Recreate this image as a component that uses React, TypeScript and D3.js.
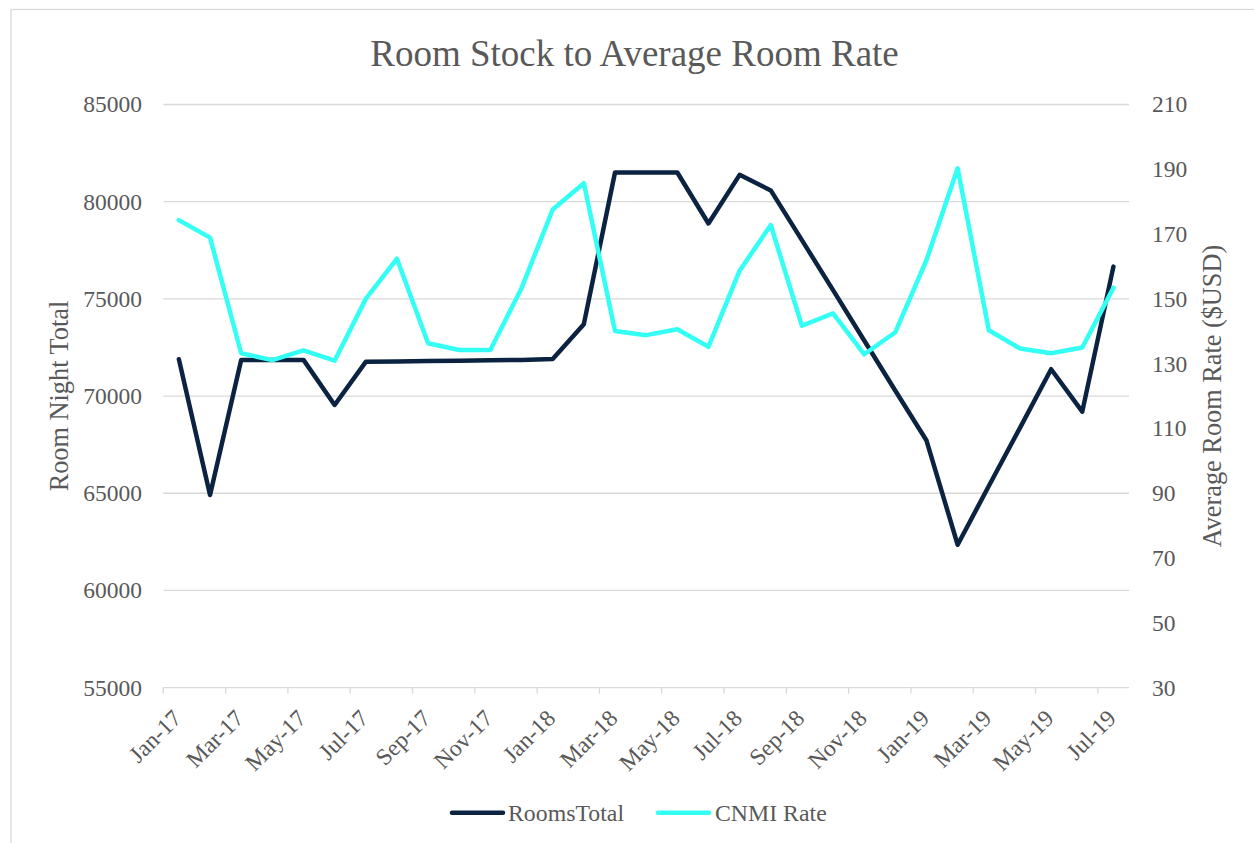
import * as d3 from 'd3';
import React from 'react';

// data (Jan-17 .. Jul-19)
const MONTHS = d3.timeMonth.range(new Date(2017, 0, 1), new Date(2019, 7, 1));
const ROOMS_TOTAL = [
  71890, 64910, 71860, 71860, 71860, 69540, 71760, 71780, 71800, 71820, 71840,
  71860, 71900, 73700, 81500, 81500, 81500, 78880, 81380, 80580, 78020, 75450,
  72860, 70270, 67710, 62350, 65370, 68360, 71380, 69200, 76660,
];
const CNMI_RATE = [
  174.3, 168.9, 133.2, 131.1, 134.1, 130.9, 150.0, 162.4, 136.3, 134.2, 134.2,
  153.3, 177.6, 185.7, 140.1, 138.8, 140.6, 135.2, 158.7, 172.8, 141.7, 145.5,
  132.9, 139.7, 162.0, 190.3, 140.3, 134.7, 133.2, 135.0, 153.4,
];
const LEFT_TICKS = [55000, 60000, 65000, 70000, 75000, 80000, 85000];
const RIGHT_TICKS = [30, 50, 70, 90, 110, 130, 150, 170, 190, 210];

// RENDERING SETUP
const W = 1254;
const H = 843;
const PLOT = { LEFT: 163.3, RIGHT: 1129, TOP: 104.5, BOTTOM: 687.6 };
const COLOR = {
  ROOMS: '#0b2341',
  RATE: '#33fff5',
  TEXT: '#595959',
  GRID: '#d9d9d9',
};
const FONT = '"Liberation Serif", "Times New Roman", serif';

const fmtMonth = d3.timeFormat('%b-%y');

const App = () => {
  const x = d3
    .scaleBand<Date>()
    .domain(MONTHS)
    .range([PLOT.LEFT, PLOT.RIGHT])
    .padding(0);
  const half = x.bandwidth() / 2;
  const yL = d3.scaleLinear().domain([55000, 85000]).range([PLOT.BOTTOM, PLOT.TOP]);
  const yR = d3.scaleLinear().domain([30, 210]).range([PLOT.BOTTOM, PLOT.TOP]);

  const roomsLine = d3
    .line<number>()
    .x((d, i) => (x(MONTHS[i]) as number) + half)
    .y((d) => yL(d));
  const rateLine = d3
    .line<number>()
    .x((d, i) => (x(MONTHS[i]) as number) + half)
    .y((d) => yR(d));

  const labelMonths = MONTHS.filter((d, i) => i % 2 === 0);

  return (
    <div style={{ position: 'absolute', left: 0, top: 0 }}>
      <svg width={W} height={H} style={{ display: 'block', fontFamily: FONT }}>
        <rect x={0} y={0} width={W} height={H} fill="#fff" />
        <rect x={11} y={9.5} width={W + 20} height={H + 20} fill="none" stroke={COLOR.GRID} strokeWidth={1.3} />

        <text x={634.5} y={66} textAnchor="middle" fontSize={37} fill={COLOR.TEXT}>
          Room Stock to Average Room Rate
        </text>

        {/* gridlines */}
        {LEFT_TICKS.map((t) => (
          <line key={t} x1={PLOT.LEFT} x2={PLOT.RIGHT} y1={yL(t)} y2={yL(t)} stroke={COLOR.GRID} strokeWidth={1.3} />
        ))}
        {/* x axis ticks */}
        {labelMonths.map((m) => (
          <line
            key={+m}
            x1={x(m) as number}
            x2={x(m) as number}
            y1={PLOT.BOTTOM}
            y2={PLOT.BOTTOM + 6}
            stroke={COLOR.GRID}
            strokeWidth={1.3}
          />
        ))}

        {/* left ticks */}
        {LEFT_TICKS.map((t) => (
          <text key={t} x={142} y={yL(t)} dy="0.34em" textAnchor="end" fontSize={23.5} fill={COLOR.TEXT}>
            {t}
          </text>
        ))}
        {/* right ticks */}
        {RIGHT_TICKS.map((t) => (
          <text key={t} x={1152} y={yR(t)} dy="0.34em" textAnchor="start" fontSize={23.5} fill={COLOR.TEXT}>
            {t}
          </text>
        ))}
        {/* month labels */}
        {labelMonths.map((m) => {
          const cx = (x(m) as number) + half + 4;
          const cy = PLOT.BOTTOM + 32;
          return (
            <text
              key={+m}
              transform={`translate(${cx},${cy}) rotate(-45)`}
              textAnchor="end"
              fontSize={23.5}
              fill={COLOR.TEXT}
            >
              {fmtMonth(m)}
            </text>
          );
        })}

        {/* axis titles */}
        <text
          transform={`translate(68,${(PLOT.TOP + PLOT.BOTTOM) / 2}) rotate(-90)`}
          textAnchor="middle"
          fontSize={26.3}
          fill={COLOR.TEXT}
        >
          Room Night Total
        </text>
        <text
          transform={`translate(1221,${(PLOT.TOP + PLOT.BOTTOM) / 2}) rotate(-90)`}
          textAnchor="middle"
          fontSize={26.3}
          fill={COLOR.TEXT}
        >
          Average Room Rate ($USD)
        </text>

        {/* series */}
        <path d={roomsLine(ROOMS_TOTAL) ?? ''} fill="none" stroke={COLOR.ROOMS} strokeWidth={4.5} strokeLinejoin="round" strokeLinecap="round" />
        <path d={rateLine(CNMI_RATE) ?? ''} fill="none" stroke={COLOR.RATE} strokeWidth={4.5} strokeLinejoin="round" strokeLinecap="round" />

        {/* legend */}
        <line x1={452} x2={503} y1={812.7} y2={812.7} stroke={COLOR.ROOMS} strokeWidth={4.5} strokeLinecap="round" />
        <text x={508} y={821} fontSize={23.8} fill={COLOR.TEXT}>RoomsTotal</text>
        <line x1={658} x2={709} y1={812.7} y2={812.7} stroke={COLOR.RATE} strokeWidth={4.5} strokeLinecap="round" />
        <text x={715} y={821} fontSize={23.8} fill={COLOR.TEXT}>CNMI Rate</text>
      </svg>
    </div>
  );
};

export default App;
